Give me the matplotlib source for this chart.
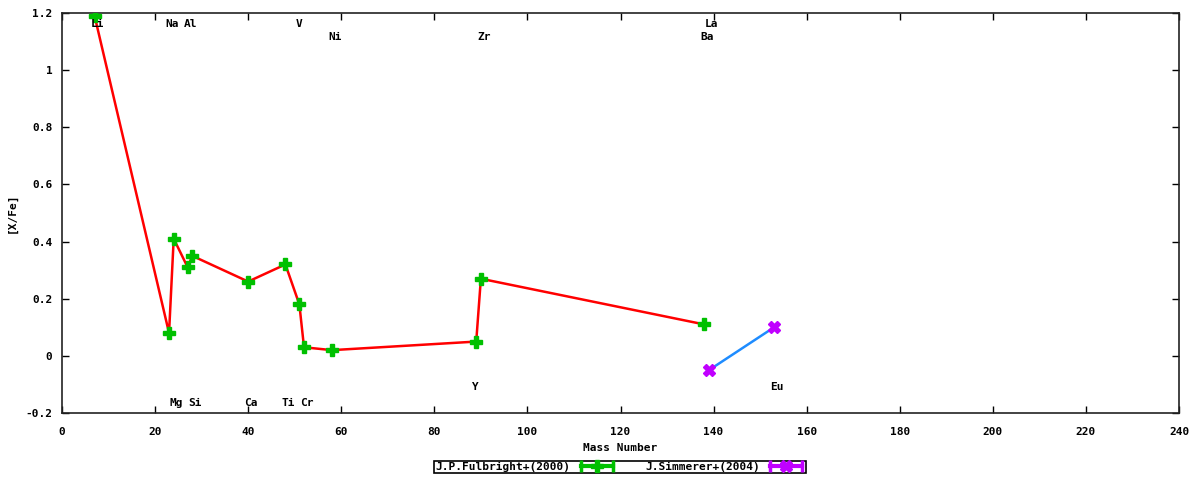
import matplotlib
matplotlib.use('Agg')
import matplotlib.pyplot as plt
import matplotlib.ticker as mticker
from matplotlib.lines import Line2D
from matplotlib.legend_handler import HandlerLine2D, HandlerTuple

# J.P.Fulbright+(2000)
fulb_el = ['Li', 'Na', 'Mg', 'Al', 'Si', 'Ca', 'Ti', 'V', 'Cr', 'Ni', 'Y', 'Zr', 'Ba']
fulb_mass = [7, 23, 24, 27, 28, 40, 48, 51, 52, 58, 89, 90, 138]
fulb_xfe = [1.19, 0.08, 0.41, 0.31, 0.35, 0.26, 0.32, 0.18, 0.03, 0.02, 0.05, 0.27, 0.11]

# J.Simmerer+(2004)
simm_el = ['La', 'Eu']
simm_mass = [139, 153]
simm_xfe = [-0.05, 0.10]

# label rows for element names
lab_el = ['Li', 'Na', 'Al', 'V', 'La', 'Ni', 'Zr', 'Ba', 'Y', 'Eu', 'Mg', 'Si', 'Ca', 'Ti', 'Cr']
lab_mass = [7, 23, 27, 51, 139, 58, 90, 138, 89, 153, 24, 28, 40, 48, 52]
lab_y = [1.16, 1.16, 1.16, 1.16, 1.16, 1.115, 1.115, 1.115,
         -0.11, -0.11, -0.165, -0.165, -0.165, -0.165, -0.165]

plt.rcParams['font.family'] = 'DejaVu Sans Mono'
plt.rcParams['font.weight'] = 'bold'
plt.rcParams['font.size'] = 8

fig = plt.figure(figsize=(12, 4.8), dpi=100)
ax = fig.add_axes([62/1200, 67/480, 1117/1200, 400/480])

green = '#00c000'
purple = '#c000ff'

ax.plot(fulb_mass, fulb_xfe, color='#ff0000', lw=1.8, zorder=2)
ax.plot(simm_mass, simm_xfe, color='#1e8cff', lw=1.8, zorder=2)
ax.plot(fulb_mass, fulb_xfe, ls='none', marker='P', ms=8, color=green, mec=green, zorder=3)
ax.plot(simm_mass, simm_xfe, ls='none', marker='X', ms=8, color=purple, mec=purple, zorder=3)

for el, m, y in zip(lab_el, lab_mass, lab_y):
    ax.text(m - 0.8, y, el, ha='left', va='center', fontsize=8, fontweight='bold')

ax.set_xlim(0, 240)
ax.set_ylim(-0.2, 1.2)
ax.set_xticks(range(0, 241, 20))
ax.set_yticks([-0.2, 0, 0.2, 0.4, 0.6, 0.8, 1.0, 1.2])
ax.yaxis.set_major_formatter(mticker.FormatStrFormatter('%g'))
ax.tick_params(direction='in', top=True, right=True, length=5, width=1)
ax.tick_params(axis='x', pad=10)
ax.tick_params(axis='y', pad=7)
for s in ax.spines.values():
    s.set_linewidth(1.2)
    s.set_color('#222222')

ax.set_xlabel('Mass Number', fontsize=8, fontweight='bold', labelpad=4.5)
ax.set_ylabel('[X/Fe]', fontsize=8, fontweight='bold', labelpad=6)

# legend samples: errorbar-like bar with caps plus the marker
bar1 = Line2D([], [], color=green, lw=3, marker='|', ms=9, mew=2.5)
bar2 = Line2D([], [], color=purple, lw=3, marker='|', ms=9, mew=2.5)
mk1 = Line2D([], [], ls='none', marker='P', ms=8, color=green)
mk2 = Line2D([], [], ls='none', marker='X', ms=8, color=purple)
hmap = {bar1: HandlerLine2D(numpoints=2), bar2: HandlerLine2D(numpoints=2),
        tuple: HandlerTuple(ndivide=1, pad=0)}
leg = fig.legend([(bar1, mk1), (bar2, mk2)], ['J.P.Fulbright+(2000)', 'J.Simmerer+(2004)'],
                 handler_map=hmap,
                 loc='center', bbox_to_anchor=(0.517, 0.027), ncol=2, markerfirst=False,
                 fancybox=False, edgecolor='black', framealpha=1, borderpad=0.1,
                 handlelength=3.5, columnspacing=2.6, handletextpad=0.6, fontsize=8)
leg.get_frame().set_linewidth(1.2)

fig.savefig('out.png', dpi=100)
